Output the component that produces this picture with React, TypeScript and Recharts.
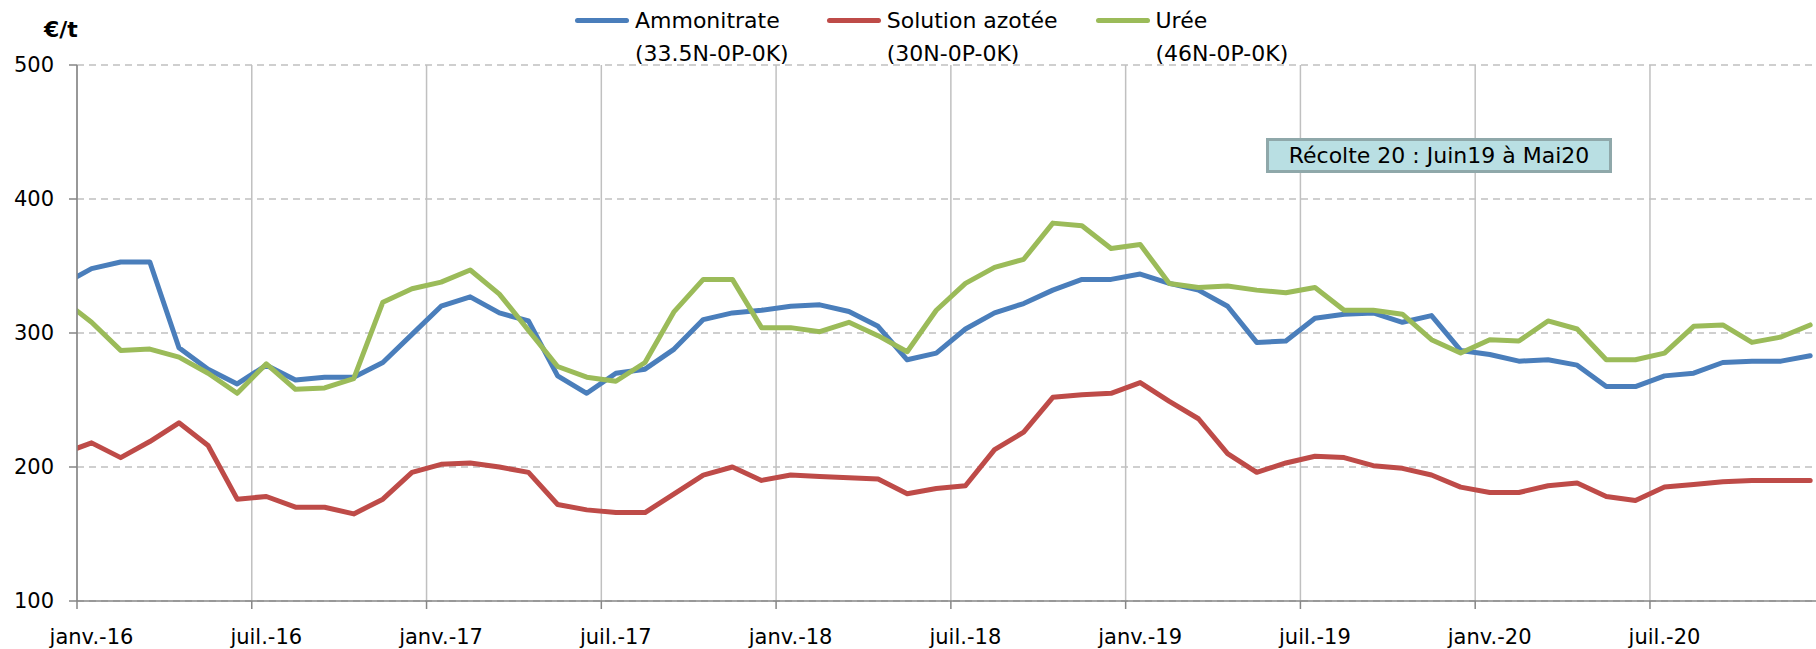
import { LineChart, Line, XAxis, YAxis, CartesianGrid } from 'recharts';

const FONT = '"DejaVu Sans", Verdana, sans-serif';

const monthNames = ['janv.', 'févr.', 'mars', 'avr.', 'mai', 'juin', 'juil.', 'août', 'sept.', 'oct.', 'nov.', 'déc.'];
const years = ['16', '17', '18', '19', '20'];
// first point is mid-Dec 2015, clipped by the axis start
const months = ['déc.-15', ...years.flatMap((y) => monthNames.map((m) => `${m}-${y}`))];

const ammonitrate = [
  336,
  348, 353, 353, 289, 273, 262, 276, 265, 267, 267, 278, 299,
  320, 327, 315, 309, 268, 255, 270, 273, 288, 310, 315, 317,
  320, 321, 316, 305, 280, 285, 303, 315, 322, 332, 340, 340,
  344, 337, 332, 320, 293, 294, 311, 314, 315, 308, 313, 287,
  284, 279, 280, 276, 260, 260, 268, 270, 278, 279, 279, 283,
];
const solutionAzotee = [
  210,
  218, 207, 219, 233, 216, 176, 178, 170, 170, 165, 176, 196,
  202, 203, 200, 196, 172, 168, 166, 166, 180, 194, 200, 190,
  194, 193, 192, 191, 180, 184, 186, 213, 226, 252, 254, 255,
  263, 249, 236, 210, 196, 203, 208, 207, 201, 199, 194, 185,
  181, 181, 186, 188, 178, 175, 185, 187, 189, 190, 190, 190,
];
const uree = [
  325,
  308, 287, 288, 282, 270, 255, 277, 258, 259, 266, 323, 333,
  338, 347, 329, 302, 275, 267, 264, 278, 316, 340, 340, 304,
  304, 301, 308, 298, 286, 317, 337, 349, 355, 382, 380, 363,
  366, 337, 334, 335, 332, 330, 334, 317, 317, 314, 295, 285,
  295, 294, 309, 303, 280, 280, 285, 305, 306, 293, 297, 306,
];

const tickLabels = ['janv.-16', 'juil.-16', 'janv.-17', 'juil.-17', 'janv.-18', 'juil.-18', 'janv.-19', 'juil.-19', 'janv.-20', 'juil.-20'];
const tickMonths = tickLabels.map((_, i) => i * 6);
const yTicks = [100, 200, 300, 400, 500];

const series = [
  { key: 'amm', name: 'Ammonitrate', sub: '(33.5N-0P-0K)', color: '#4A7EBB' },
  { key: 'sol', name: 'Solution azotée', sub: '(30N-0P-0K)', color: '#BE4B48' },
  { key: 'uree', name: 'Urée', sub: '(46N-0P-0K)', color: '#9BBB59' },
];

const data = months.map((m, i) => ({
  month: m,
  t: i - 0.5,
  amm: ammonitrate[i],
  sol: solutionAzotee[i],
  uree: uree[i],
}));

function XTick({ x, y, payload }: any) {
  const idx = tickMonths.indexOf(payload.value);
  return (
    <text x={x + 14.5} y={y + 33} textAnchor="middle" fontFamily={FONT} fontSize={21} fill="#000">
      {tickLabels[idx]}
    </text>
  );
}

export default function App() {
  return (
    <div style={{ position: 'absolute', left: 0, top: 0, width: 1816, height: 649, fontFamily: FONT, background: '#fff' }}>
      <LineChart width={1816} height={649} data={data} margin={{ top: 65, right: 0, left: 0, bottom: 0 }}>
        <CartesianGrid horizontal vertical={false} stroke="#C0C0C0" strokeWidth={1.5} strokeDasharray="7 5" />
        <CartesianGrid horizontal={false} vertical stroke="#C0C0C0" strokeWidth={1.5} verticalValues={tickMonths} />
        <XAxis
          dataKey="t"
          type="number"
          domain={[0, 59.7]}
          allowDataOverflow
          ticks={tickMonths}
          interval={0}
          height={48}
          tickSize={8}
          tickMargin={2}
          stroke="#868686"
          strokeWidth={1.5}
          tick={<XTick />}
        />
        <YAxis
          type="number"
          domain={[100, 500]}
          ticks={yTicks}
          allowDataOverflow
          width={77}
          tickSize={8}
          tickMargin={15}
          stroke="#868686"
          strokeWidth={1.5}
          tick={{ fontFamily: FONT, fontSize: 21, fill: '#000' }}
        />
        {series.map((s) => (
          <Line
            key={s.key}
            dataKey={s.key}
            name={s.name}
            type="linear"
            stroke={s.color}
            strokeWidth={5}
            strokeLinecap="round"
            strokeLinejoin="round"
            dot={false}
            activeDot={false}
            isAnimationActive={false}
          />
        ))}
      </LineChart>

      <div style={{ position: 'absolute', left: 44, top: 17, fontSize: 22, fontWeight: 'bold', color: '#000' }}>€/t</div>

      <div style={{ position: 'absolute', left: 575, top: 5, display: 'flex', gap: 38 }}>
        {series.map((s) => (
          <div key={s.key} style={{ display: 'flex', alignItems: 'flex-start' }}>
            <div style={{ width: 54, height: 5, background: s.color, borderRadius: 3, marginTop: 13, marginRight: 6 }} />
            <div style={{ fontSize: 22, lineHeight: '32.6px', color: '#000', whiteSpace: 'nowrap' }}>
              <div>{s.name}</div>
              <div>{s.sub}</div>
            </div>
          </div>
        ))}
      </div>

      <div
        style={{
          position: 'absolute',
          left: 1266,
          top: 138,
          width: 340,
          height: 29,
          background: '#B9DFE3',
          border: '3px solid #8FA8AA',
          fontSize: 22,
          lineHeight: '29px',
          textAlign: 'center',
          color: '#000',
        }}
      >
        Récolte 20 : Juin19 à Mai20
      </div>
    </div>
  );
}
